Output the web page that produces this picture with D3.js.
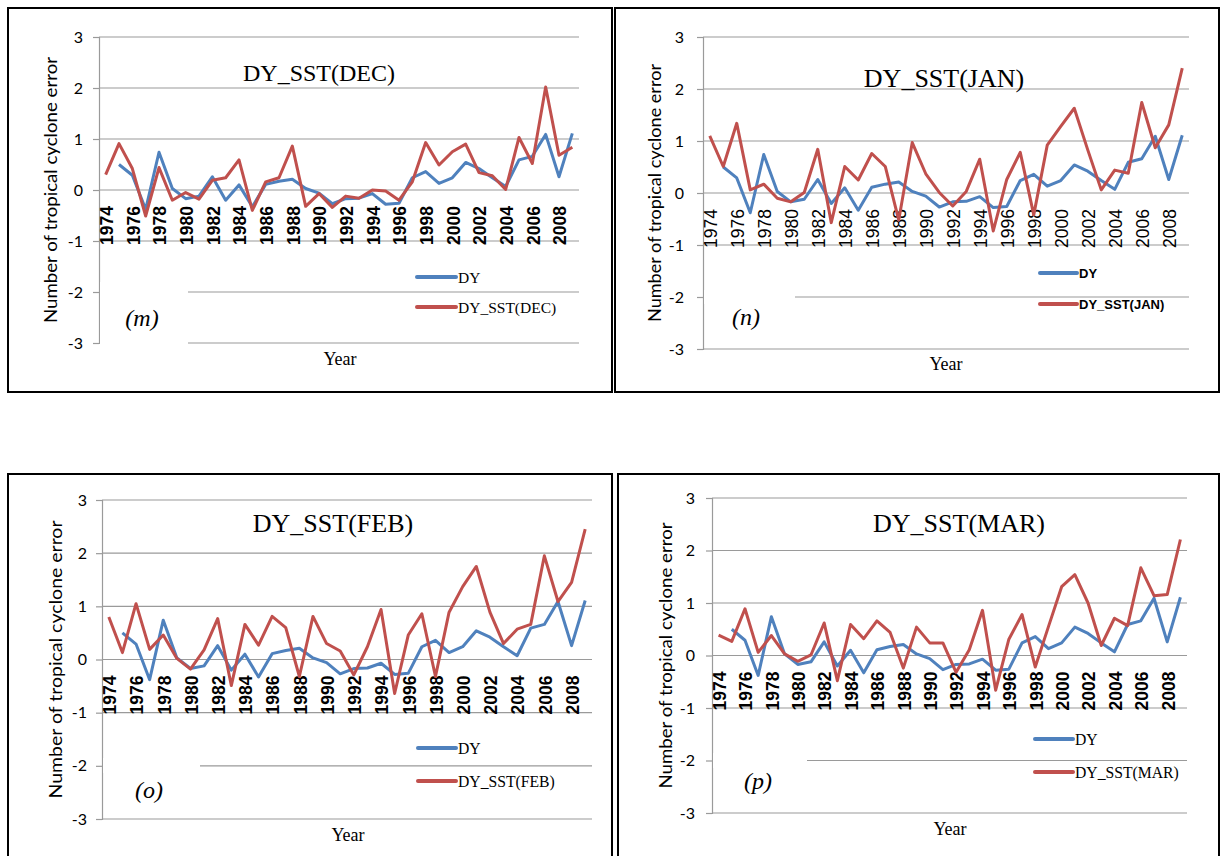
<!DOCTYPE html>
<html><head><meta charset="utf-8">
<script src="https://cdn.jsdelivr.net/npm/d3@7"></script>
<style>
html,body{margin:0;padding:0;background:#fff;}
svg{display:block;}
</style></head>
<body>
<svg id="chart" width="1222" height="856"></svg>
<script>
// ---------- DATA ----------
const years = [1974,1975,1976,1977,1978,1979,1980,1981,1982,1983,1984,1985,1986,1987,1988,1989,1990,1991,1992,1993,1994,1995,1996,1997,1998,1999,2000,2001,2002,2003,2004,2005,2006,2007,2008,2009];
const yearLabels = ["1974","1976","1978","1980","1982","1984","1986","1988","1990","1992","1994","1996","1998","2000","2002","2004","2006","2008"];
const yTicks = [-3,-2,-1,0,1,2,3];
const dy = [null,0.50,0.29,-0.38,0.74,0.03,-0.17,-0.12,0.26,-0.20,0.10,-0.33,0.11,0.17,0.21,0.03,-0.06,-0.27,-0.17,-0.16,-0.07,-0.28,-0.26,0.24,0.36,0.13,0.24,0.54,0.42,0.24,0.07,0.59,0.66,1.09,0.26,1.11];
const dySstDec = [0.30,0.91,0.42,-0.51,0.44,-0.20,-0.05,-0.18,0.19,0.24,0.59,-0.40,0.16,0.24,0.86,-0.32,-0.07,-0.34,-0.12,-0.16,0.00,-0.02,-0.20,0.16,0.93,0.49,0.75,0.90,0.34,0.28,0.01,1.03,0.52,2.02,0.68,0.84];
const dySstJan = [1.10,0.51,1.34,0.06,0.17,-0.10,-0.17,0.01,0.84,-0.57,0.51,0.25,0.76,0.51,-0.52,0.97,0.37,0.01,-0.25,0.03,0.65,-0.73,0.26,0.78,-0.42,0.92,1.28,1.63,0.83,0.06,0.44,0.38,1.74,0.87,1.31,2.40];
const dySstFeb = [0.80,0.13,1.05,0.19,0.46,0.02,-0.18,0.18,0.77,-0.49,0.66,0.27,0.81,0.60,-0.32,0.81,0.30,0.16,-0.29,0.24,0.94,-0.64,0.46,0.86,-0.32,0.89,1.37,1.75,0.89,0.30,0.57,0.66,1.95,1.09,1.45,2.45];
const dySstMar = [0.39,0.27,0.89,0.06,0.38,0.03,-0.11,0.01,0.62,-0.48,0.59,0.32,0.66,0.44,-0.24,0.54,0.24,0.24,-0.32,0.11,0.86,-0.66,0.31,0.78,-0.22,0.55,1.31,1.54,1.00,0.19,0.71,0.57,1.67,1.14,1.16,2.21];
const seriesNames = ["DY_SST(DEC)","DY_SST(JAN)","DY_SST(FEB)","DY_SST(MAR)"];
const panelLetters = ["(m)","(n)","(o)","(p)"];
const yTitle = "Number of tropical cyclone error";
const xTitle = "Year";

// ---------- LAYOUT ----------
const BLUE = "#4F81BD", RED = "#C0504D", GRID = "#9a9a9a";
const layouts = [
  {series:dySstDec, frame:[8,8,604,384], plot:[99,37,579,343], tickR:83, titleXY:[319,73], titleSize:24,
   yTitleX:50, yTitleLen:266, xTitleXY:[340,359], legX:[417,456], legY:[277,307], legFont:"'Liberation Serif','Times New Roman',serif", legSize:15.5, legW:"normal",
   letterXY:[142,318], box:[100,282,88,63], yrWeight:"bold"},
  {series:dySstJan, frame:[615,8,604,384], plot:[703,37,1189,349], tickR:684, titleXY:[944,78], titleSize:26,
   yTitleX:654, yTitleLen:258, xTitleXY:[946,364], legX:[1040,1077], legY:[273,304], legFont:"'Liberation Sans Narrow','Arial Narrow',sans-serif", legSize:13, legW:"bold",
   letterXY:[746,317], box:[704,290,91,14], yrWeight:"normal"},
  {series:dySstFeb, frame:[8,474,604,390], plot:[102,500,592,819], tickR:87, titleXY:[333,523], titleSize:26,
   yTitleX:55, yTitleLen:278, xTitleXY:[348,835], legX:[418,456], legY:[748,781], legFont:"'Liberation Serif','Times New Roman',serif", legSize:15.7, legW:"normal",
   letterXY:[149,790], box:[103,758,97,15], yrWeight:"bold"},
  {series:dySstMar, frame:[618,474,601,390], plot:[712,498,1187,813], tickR:695, titleXY:[959,523], titleSize:26,
   yTitleX:665, yTitleLen:266, xTitleXY:[950,829], legX:[1035,1073], legY:[739,772], legFont:"'Liberation Serif','Times New Roman',serif", legSize:15.7, legW:"normal",
   letterXY:[758,781], box:[713,753,94,15], yrWeight:"bold"}
];

const svg = d3.select("#chart");
const SERIF = "'Liberation Serif','Times New Roman',serif";
const SANS = "Lato, 'Liberation Sans', sans-serif";

layouts.forEach((L, pi) => {
  const g = svg.append("g");
  const [l,t,r,b] = L.plot;
  const x = d3.scaleBand().domain(years).range([l, r]).paddingInner(0).paddingOuter(0);
  const cx = yr => x(yr) + x.bandwidth()/2;
  const y = d3.scaleLinear().domain([d3.min(yTicks), d3.max(yTicks)]).range([b, t]);

  // frame
  g.append("rect").attr("x", L.frame[0]).attr("y", L.frame[1]).attr("width", L.frame[2]).attr("height", L.frame[3])
    .attr("fill", "#fff").attr("stroke", "#000").attr("stroke-width", 2);

  // gridlines
  g.append("g").selectAll("line").data(yTicks).join("line")
    .attr("x1", l).attr("x2", r).attr("y1", d => y(d)).attr("y2", d => y(d))
    .attr("stroke", GRID).attr("stroke-width", 1.2);

  // y axis
  const ax = g.append("g").attr("transform", `translate(${l},0)`)
    .call(d3.axisLeft(y).tickValues(yTicks).tickSize(6).tickFormat(d3.format("d")));
  ax.select(".domain").attr("stroke", GRID).attr("stroke-width", 1.2);
  ax.selectAll(".tick line").attr("stroke", GRID).attr("stroke-width", 1.2);
  ax.selectAll(".tick text").attr("x", -(l - L.tickR)).attr("font-family", SANS).attr("font-size", 16).attr("fill", "#000");
  ax.selectAll(".tick text").text(d => d < 0 ? "-" + Math.abs(d) : d);

  // white box behind panel letter
  g.append("rect").attr("x", L.box[0]).attr("y", L.box[1]).attr("width", L.box[2]).attr("height", L.box[3]).attr("fill", "#fff");

  // title
  g.append("text").attr("x", L.titleXY[0]).attr("y", L.titleXY[1]).attr("text-anchor", "middle")
    .attr("dominant-baseline", "central").attr("font-family", SERIF).attr("font-size", L.titleSize)
    .text(seriesNames[pi]);

  // y title
  g.append("text").attr("transform", `translate(${L.yTitleX},${(t+b)/2}) rotate(-90)`)
    .attr("text-anchor", "middle").attr("dominant-baseline", "central")
    .attr("font-family", SANS).attr("font-size", 17)
    .attr("textLength", L.yTitleLen).attr("lengthAdjust", "spacingAndGlyphs")
    .text(yTitle);

  // x title
  g.append("text").attr("x", L.xTitleXY[0]).attr("y", L.xTitleXY[1]).attr("text-anchor", "middle")
    .attr("dominant-baseline", "central").attr("font-family", SERIF).attr("font-size", 18).text(xTitle);

  // year labels
  const y0 = y(0);
  g.append("g").selectAll("text").data(yearLabels).join("text")
    .attr("transform", d => `translate(${cx(+d) + 1},${y0 + 16}) rotate(-90)`)
    .attr("text-anchor", "end").attr("dy", "0.36em")
    .attr("font-family", "'Liberation Sans', Arial, sans-serif").attr("font-size", 17.5)
    .attr("font-weight", L.yrWeight).attr("fill", "#000")
    .text(d => d);

  // lines
  const line = d3.line().defined(d => d.v != null).x(d => cx(d.yr)).y(d => y(d.v));
  const blueData = years.map((yr, i) => ({yr, v: dy[i]}));
  const redData = years.map((yr, i) => ({yr, v: L.series[i]}));
  g.append("path").datum(blueData).attr("d", line).attr("fill", "none").attr("stroke", BLUE)
    .attr("stroke-width", 3).attr("stroke-linejoin", "round");
  g.append("path").datum(redData).attr("d", line).attr("fill", "none").attr("stroke", RED)
    .attr("stroke-width", 3).attr("stroke-linejoin", "round");

  // legend
  const leg = [{name:"DY", c:BLUE}, {name:seriesNames[pi], c:RED}];
  leg.forEach((e, k) => {
    g.append("line").attr("x1", L.legX[0]).attr("x2", L.legX[1]).attr("y1", L.legY[k]).attr("y2", L.legY[k])
      .attr("stroke", e.c).attr("stroke-width", 4).attr("stroke-linecap", "round");
    g.append("text").attr("x", L.legX[1] + 2).attr("y", L.legY[k]).attr("dominant-baseline", "central")
      .attr("font-family", L.legFont).attr("font-size", L.legSize).attr("font-weight", L.legW).text(e.name);
  });

  // panel letter
  g.append("text").attr("x", L.letterXY[0]).attr("y", L.letterXY[1]).attr("text-anchor", "middle")
    .attr("dominant-baseline", "central").attr("font-family", SERIF).attr("font-style", "italic")
    .attr("font-size", 24).text(panelLetters[pi]);
});
</script>
</body></html>
